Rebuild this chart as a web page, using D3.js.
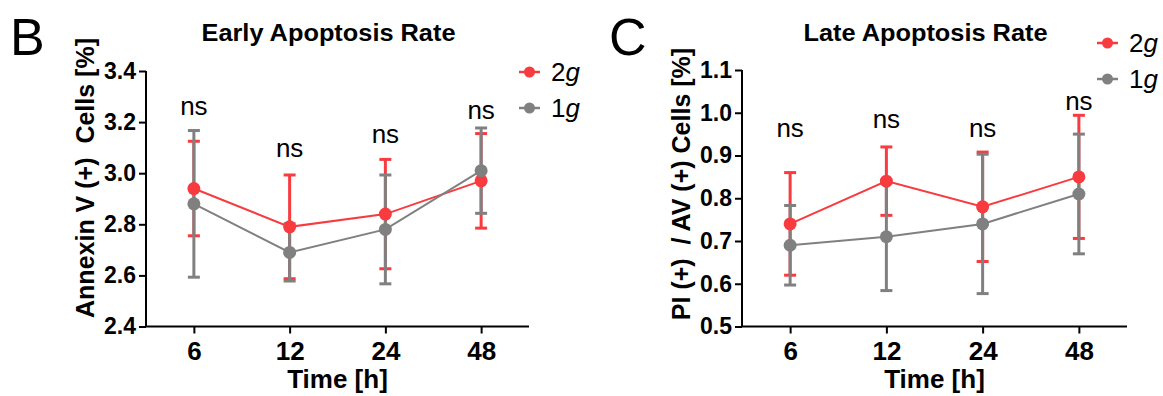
<!DOCTYPE html>
<html>
<head>
<meta charset="utf-8">
<script src="https://cdn.jsdelivr.net/npm/d3@7"></script>
<style>
  html, body { margin: 0; padding: 0; background: #fff; }
  svg { display: block; font-family: "Liberation Sans", Arial, sans-serif; }
</style>
</head>
<body>
<div id="chart"></div>
<script>
// time points (x categories)
const timeLabels = ['6', '12', '24', '48']

// Early apoptosis (%), mean and SD
const early2gMean = [2.94, 2.79, 2.84, 2.97]
const early2gErr = [0.185, 0.203, 0.214, 0.185]
const early1gMean = [2.88, 2.69, 2.78, 3.01]
const early1gErr = [0.287, 0.112, 0.213, 0.167]
const earlyNsY = [3.228, 3.065, 3.118, 3.212]
const earlyTicks = [2.4, 2.6, 2.8, 3.0, 3.2, 3.4]

// Late apoptosis (%), mean and SD
const late2gMean = [0.74, 0.84, 0.78, 0.85]
const late2gErr = [0.12, 0.08, 0.128, 0.144]
const late1gMean = [0.69, 0.71, 0.74, 0.81]
const late1gErr = [0.093, 0.126, 0.163, 0.14]
const lateNsY = [0.943, 0.964, 0.943, 1.006]
const lateTicks = [0.5, 0.6, 0.7, 0.8, 0.9, 1.0, 1.1]

const seriesNames = ['2g', '1g']
const colors = { '2g': '#f73b3f', '1g': '#808080' }

const W = 1163, H = 396
const svg = d3.select('#chart').append('svg')
  .attr('width', W)
  .attr('height', H)

function drawPanel(opts) {
  const { letter, letterX, title, titleW, yLabel, x0, x1, yTop, yBot, domain, ticks,
          series, nsY, legendX, legendY, yLabelY } = opts

  const x = d3.scalePoint().domain(timeLabels).range([x0, x1]).padding(0.5)
  const y = d3.scaleLinear().domain(domain).range([yBot, yTop])

  const g = svg.append('g')

  // panel letter
  g.append('text')
    .attr('x', letterX)
    .attr('y', 55)
    .attr('font-size', 52)
    .text(letter)

  // title
  g.append('text')
    .attr('x', (x0 + x1) / 2 - 9)
    .attr('y', 41)
    .attr('text-anchor', 'middle')
    .attr('font-size', 23)
    .attr('font-weight', 'bold')
    .attr('textLength', titleW)
    .attr('lengthAdjust', 'spacingAndGlyphs')
    .text(title)

  // y axis
  const yAxis = g.append('g')
    .attr('transform', `translate(${x0},0)`)
    .call(d3.axisLeft(y).tickValues(ticks).tickFormat(d3.format('.1f')).tickSize(7).tickPadding(3))
  yAxis.select('.domain').attr('stroke', '#000').attr('stroke-width', 2)
    .attr('d', `M0,${yTop}V${yBot}`)
  yAxis.selectAll('.tick line').attr('stroke', '#000').attr('stroke-width', 2)
  yAxis.selectAll('.tick text')
    .attr('font-size', 23)
    .attr('font-weight', 'bold')
    .attr('font-family', '"Liberation Sans", Arial, sans-serif')
    .attr('fill', '#000')

  // x axis
  const xAxis = g.append('g')
    .attr('transform', `translate(0,${yBot})`)
    .call(d3.axisBottom(x).tickSize(7).tickPadding(8))
  xAxis.select('.domain').attr('stroke', '#000').attr('stroke-width', 2)
    .attr('d', `M${x0},0H${x1}`)
  xAxis.selectAll('.tick line').attr('stroke', '#000').attr('stroke-width', 2)
  xAxis.selectAll('.tick text')
    .attr('font-size', 26)
    .attr('font-weight', 'bold')
    .attr('font-family', '"Liberation Sans", Arial, sans-serif')
    .attr('fill', '#000')

  // axis labels
  g.append('text')
    .attr('x', (x0 + x1) / 2)
    .attr('y', 388)
    .attr('text-anchor', 'middle')
    .attr('font-size', 26)
    .attr('font-weight', 'bold')
    .text('Time [h]')

  g.append('text')
    .attr('transform', `translate(${x0 - 52},${yLabelY}) rotate(-90)`)
    .attr('text-anchor', 'middle')
    .attr('font-size', 25)
    .attr('font-weight', 'bold')
    .attr('xml:space', 'preserve')
    .style('white-space', 'pre')
    .text(yLabel)

  // error bars
  const capW = 6
  series.forEach(s => {
    const eb = g.append('g').attr('stroke', colors[s.name]).attr('stroke-width', 3)
    s.mean.forEach((m, i) => {
      const cx = x(timeLabels[i])
      const lo = y(m - s.err[i]), hi = y(m + s.err[i])
      eb.append('line').attr('x1', cx).attr('x2', cx).attr('y1', lo).attr('y2', hi)
      eb.append('line').attr('x1', cx - capW).attr('x2', cx + capW).attr('y1', lo).attr('y2', lo)
      eb.append('line').attr('x1', cx - capW).attr('x2', cx + capW).attr('y1', hi).attr('y2', hi)
    })
  })

  // lines
  const line = d3.line()
    .x((d, i) => x(timeLabels[i]))
    .y(d => y(d))
  series.forEach(s => {
    g.append('path')
      .datum(s.mean)
      .attr('d', line)
      .attr('fill', 'none')
      .attr('stroke', colors[s.name])
      .attr('stroke-width', 2)
  })

  // points
  series.forEach(s => {
    g.append('g').selectAll('circle')
      .data(s.mean)
      .join('circle')
      .attr('cx', (d, i) => x(timeLabels[i]))
      .attr('cy', d => y(d))
      .attr('r', 6.5)
      .attr('fill', colors[s.name])
  })

  // significance labels
  g.append('g').selectAll('text')
    .data(nsY)
    .join('text')
    .attr('x', (d, i) => x(timeLabels[i]))
    .attr('y', d => y(d))
    .attr('text-anchor', 'middle')
    .attr('font-size', 26)
    .text('ns')

  // legend
  const lg = g.append('g').attr('transform', `translate(${legendX},${legendY})`)
  seriesNames.forEach((name, i) => {
    const row = lg.append('g').attr('transform', `translate(0,${i * 36})`)
    row.append('line')
      .attr('x1', 0).attr('x2', 21)
      .attr('stroke', colors[name]).attr('stroke-width', 2.5)
    row.append('circle')
      .attr('cx', 10.5).attr('r', 5.5)
      .attr('fill', colors[name])
    const t = row.append('text')
      .attr('x', 32)
      .attr('y', 9)
      .attr('font-size', 26)
    t.append('tspan').text(name.slice(0, 1))
    t.append('tspan').attr('font-style', 'italic').text(name.slice(1))
  })
}

drawPanel({
  letter: 'B', letterX: 10,
  title: 'Early Apoptosis Rate', titleW: 254,
  yLabel: 'Annexin V (+)  Cells [%]',
  yLabelY: 178,
  x0: 146, x1: 529, yTop: 71, yBot: 326.5,
  domain: [2.4, 3.4], ticks: earlyTicks,
  series: [
    { name: '2g', mean: early2gMean, err: early2gErr },
    { name: '1g', mean: early1gMean, err: early1gErr }
  ],
  nsY: earlyNsY,
  legendX: 519, legendY: 72
})

drawPanel({
  letter: 'C', letterX: 609,
  title: 'Late Apoptosis Rate', titleW: 244,
  yLabel: 'PI (+)  / AV (+) Cells [%]',
  yLabelY: 184,
  x0: 742, x1: 1127, yTop: 70, yBot: 326.5,
  domain: [0.5, 1.1], ticks: lateTicks,
  series: [
    { name: '2g', mean: late2gMean, err: late2gErr },
    { name: '1g', mean: late1gMean, err: late1gErr }
  ],
  nsY: lateNsY,
  legendX: 1097, legendY: 43
})
</script>
</body>
</html>
